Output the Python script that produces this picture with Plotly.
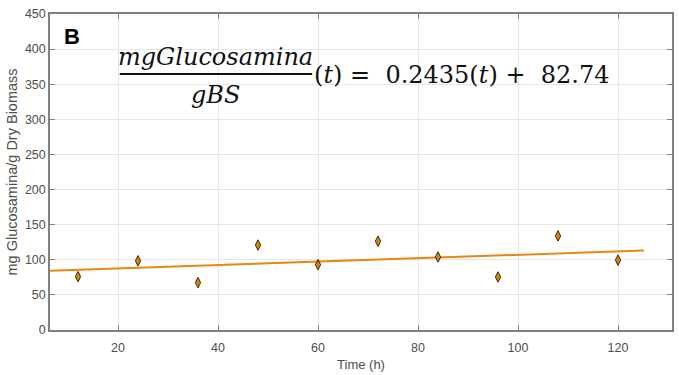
import plotly.graph_objects as go

time_h = [12, 24, 36, 48, 60, 72, 84, 96, 108, 120]
glucosamina = [76, 98.5, 67.5, 121, 93, 126.5, 104, 75.5, 134, 99.5]
fit_slope = 0.2435
fit_intercept = 82.74
fit_x = [6.4, 125.2]
fit_y = [fit_slope * x + fit_intercept for x in fit_x]
x_ticks = [20, 40, 60, 80, 100, 120]
y_ticks = [0, 50, 100, 150, 200, 250, 300, 350, 400, 450]

fig = go.Figure()
fig.add_trace(go.Scatter(x=fit_x, y=fit_y, mode="lines",
                         line=dict(color="#E8860F", width=2), showlegend=False))
fig.add_trace(go.Scatter(x=time_h, y=glucosamina, mode="markers",
                         marker=dict(symbol="diamond-tall", size=7.5, color="#D98214",
                                     line=dict(color="#3a2a10", width=1)),
                         showlegend=False))

axis_common = dict(showgrid=True, gridcolor="#e6e6e6", gridwidth=1, zeroline=False,
                   showline=True, linecolor="#7f7f7f", linewidth=1.5, mirror="ticks",
                   ticks="inside", ticklen=5, tickcolor="#7f7f7f",
                   tickfont=dict(family="Liberation Sans, Arial", size=12.5, color="#4d4d4d"))

fig.update_xaxes(range=[6.4, 130.8], tickvals=x_ticks, ticklabelstandoff=5,
                 title=dict(text="Time (h)", font=dict(family="Liberation Sans, Arial", size=13, color="#4d4d4d"), standoff=6),
                 **axis_common)
fig.update_yaxes(range=[0, 450], tickvals=y_ticks,
                 title=dict(text="mg Glucosamina/g Dry Biomass", font=dict(family="Liberation Sans, Arial", size=14.5, color="#4d4d4d"), standoff=4),
                 **axis_common)

math_font = dict(family="DejaVu Serif", size=24, color="#111111")
fig.add_annotation(xref="paper", yref="paper", x=0.02, y=0.975, xanchor="left", yanchor="top",
                   text="<b>B</b>", showarrow=False,
                   font=dict(family="Liberation Sans, Arial", size=22, color="#000000"))
fig.add_annotation(xref="paper", yref="paper", x=(216 - 50) / 624, y=(330 - 57) / 316,
                   xanchor="center", yanchor="middle", text="<i>mgGlucosamina</i>",
                   showarrow=False, font=math_font)
fig.add_annotation(xref="paper", yref="paper", x=(216 - 50) / 624, y=(330 - 95) / 316,
                   xanchor="center", yanchor="middle", text="<i>gBS</i>",
                   showarrow=False, font=math_font)
fig.add_shape(type="line", xref="paper", yref="paper",
              x0=(120 - 50) / 624, x1=(313 - 50) / 624,
              y0=(330 - 74) / 316, y1=(330 - 74) / 316,
              line=dict(color="#111111", width=2))
fig.add_annotation(xref="paper", yref="paper", x=(313 - 50) / 624, y=(330 - 75) / 316,
                   xanchor="left", yanchor="middle",
                   text="(<i>t</i>) =  0.2435(<i>t</i>) +  82.74",
                   showarrow=False, font=math_font)

fig.update_layout(width=679, height=375, margin=dict(l=50, r=5, t=14, b=45),
                  plot_bgcolor="white", paper_bgcolor="white")

fig.write_html("out.html")
